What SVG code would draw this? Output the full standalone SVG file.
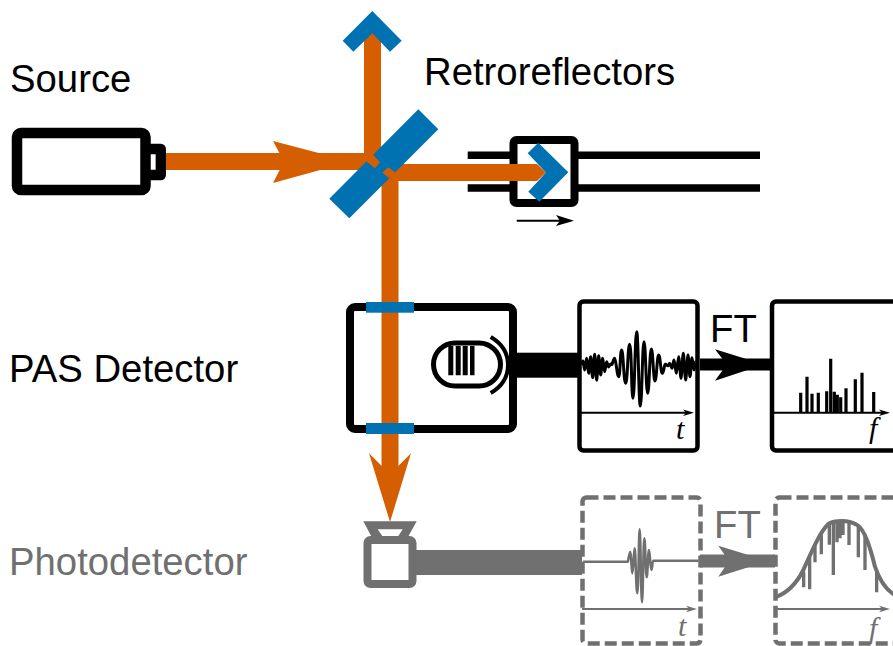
<svg xmlns="http://www.w3.org/2000/svg" width="893" height="646" viewBox="0 0 893 646">
<style>
.lbl{font-family:"Liberation Sans",Arial,sans-serif;font-size:38.300px}
.var{font-family:"Liberation Serif","Times New Roman",serif;font-style:italic;font-size:30px}
.k{fill:none;stroke:#000;stroke-linejoin:round}
.g{fill:none;stroke:#707070;stroke-linejoin:round}
.blue{fill:#0072b2}
.or{fill:#d55e00}
.or-l{stroke:#d55e00;fill:none;stroke-width:17}
</style>
<rect width="893" height="646" fill="#fff"/>
<g id="retroreflector-carriage">
<path d="M467.700 155.300H513M575 155.300H760M467.700 188H513M575 188H760" fill="none" stroke="#000" stroke-width="7.500"/>
<rect class="k" x="513.500" y="140" width="61" height="63" rx="3" stroke-width="8"/>
</g>
<g id="connectors">
<path class="or-l" d="M166 161.500H372.500V33"/>
<polygon class="or" points="273,141 351,161.500 273,183 284,161.500"/>
<path class="or-l" d="M390 172.500V470"/>
<polygon class="or" points="385,164 537,164 546,172.500 537,181 385,181"/>
<polygon class="or" points="369,453.300 381.700,466 398.300,466 411,453.300 390,522"/>
<path d="M516.700 220.700H560" stroke="#000" stroke-width="2" fill="none"/>
<polygon points="556,215 574,220.700 556,226 560,220.700"/>
<rect x="509" y="352.700" width="71" height="25"/>
<path d="M700 364.500H772" stroke="#000" stroke-width="12" fill="none"/>
<polygon points="715,349.300 764,364.500 715,380.700 726.700,364.500"/>
<rect x="414" y="550" width="168" height="25" fill="#707070"/>
<path d="M700 561H775" stroke="#707070" stroke-width="13" fill="none"/>
<polygon points="718.300,545.700 768,561 718.300,576.700 729,561" fill="#707070"/>
</g>
<g id="source">
<text class="lbl" x="10" y="92">Source</text>
<path class="k" d="M145 149H160.800V175H145" stroke-width="10.300"/>
<rect class="k" x="17" y="133" width="128.500" height="57" rx="4" stroke-width="10.500"/>
</g>
<g id="beamsplitter">
<polygon class="blue" points="418.300,109.300 438.300,129.300 349.300,218.300 329.300,198.700"/>
<polygon class="or" points="366,161 372.700,154.300 380,162.300 375,168.300"/>
<polygon class="or" points="382.300,172.700 388.300,167.300 395.700,172.700 389.300,178.300"/>
</g>
<g id="mirror-top">
<polygon class="blue" points="372.300,11 401.700,40.700 390,51.700 372.300,33.300 353.300,51.700 342.700,40.700"/>
</g>
<g id="retroreflector">
<text class="lbl" x="424" y="85">Retroreflectors</text>
<polygon class="blue" points="538.300,142.700 568.300,172.300 539.300,201.700 528.300,191.700 546,172.500 527.700,153.300"/>
</g>
<g id="pas-detector">
<text class="lbl" x="9" y="382">PAS Detector</text>
<rect class="k" x="350" y="307" width="163" height="122" rx="5" stroke-width="8"/>
<rect class="blue" x="366" y="302" width="48" height="10.700"/>
<rect class="blue" x="366" y="423" width="48" height="11"/>
<rect class="k" x="433.500" y="343" width="67" height="43" rx="21.500" stroke-width="5"/>
<path d="M448.300 346h5v29.300h-5zM455.700 346h5v29.300h-5zM462.700 346h5v29.300h-5zM470 346h4.500v29.300H470z"/>
<path d="M490.700 337Q508 347 508 365T490.700 393" fill="none" stroke="#000" stroke-width="4"/>
</g>
<g id="signal-time">
<rect class="k" x="579.500" y="301.500" width="118" height="149" rx="4" stroke-width="4.500"/>
<path d="M580 412.700H688" stroke="#000" stroke-width="2" fill="none"/>
<polygon points="683,409.500 694,412.700 683,416 686,412.700"/>
<path transform="translate(578 325) scale(.3333)" fill="none" stroke="#000" stroke-width="9" stroke-linejoin="round" d="M10 120S13 108 15 108S18 135 20 135S24 100 26 100S30 145 32 145S36 95 38 95S42 158 44 158S48 88 50 88S54 166 56 166S60 92 62 92S66 150 68 150S72 100 74 100S78 140 80 140S84 110 86 110S90 126 92 126S97 113 100 118S106 100 110 100S117 155 122 155S126 75 131 75S137 175 143 175S149 58 155 58S160 220 165 220S171 20 176 20S182 243 187 243S193 50 198 50S204 205 209 205S215 72 220 72S226 168 231 168S237 90 242 90S248 145 253 145S258 118 262 118S267 124 270 122S273 115 275 115S280 130 282 130S286 105 288 105S293 145 295 145S300 95 302 95S307 160 309 160S314 85 316 85S321 165 323 165S328 90 330 90S334 155 336 155S340 98 342 98S346 135 348 135S351 110 353 110"/>
<text class="var" x="676" y="439">t</text>
</g>
<g id="ft-label">
<text class="lbl" x="710" y="342">FT</text>
</g>
<g id="spectrum-freq">
<rect class="k" x="772" y="301.500" width="140" height="149" rx="4" stroke-width="4.500"/>
<path d="M772 412.700H884" stroke="#000" stroke-width="2" fill="none"/>
<polygon points="879,409.500 890,412.700 879,416 882,412.700"/>
<path fill="none" stroke="#000" stroke-width="3.200" d="M800.700 412.500V392.700M807 412.500V376.700M812 412.500V393.700M818.300 412.500V392.700M826.700 412.500V391.300M830.700 412.500V358.700M834.300 412.500V391.700M837.300 412.500V394.700M840.700 412.500V397.300M846 412.500V388.300M855.300 412.500V379.300M862 412.500V372.700M873.700 412.500V392"/>
<text class="var" x="869" y="438">f</text>
</g>
<g id="photodetector">
<text class="lbl" x="9" y="575" fill="#707070">Photodetector</text>
<polygon fill="#707070" fill-rule="evenodd" points="363.300,521.300 416.700,521.300 408,537 371.700,537 363.300,521.300 377.700,529.300 382.300,536 398.300,536 402.700,529.300 377.700,529.300"/>
<rect class="g" x="367.500" y="540" width="45" height="44" rx="3" stroke-width="8"/>
</g>
<g id="signal-time-ref">
<rect class="g" x="582.500" y="497.500" width="118" height="146" rx="4" stroke-width="4.500" stroke-dasharray="12 5"/>
<path d="M582 609H691" stroke="#707070" stroke-width="2" fill="none"/>
<polygon points="686,605.800 697,609 686,612.300 689,609" fill="#707070"/>
<path transform="translate(578 520) scale(.3333)" fill="none" stroke="#707070" stroke-width="7.500" stroke-linejoin="round" d="M15 125H150S154 95 157 95S160 160 163 160S167 85 170 85S174 220 178 220S182 28 185 28S189 247 192 247S196 55 199 55S203 172 206 172S210 90 213 90S217 150 220 150S223 122 226 122H362"/>
<text class="var" x="678" y="636" fill="#707070">t</text>
</g>
<g id="ft-label-ref">
<text class="lbl" x="714" y="538" fill="#707070">FT</text>
</g>
<g id="spectrum-freq-ref">
<rect class="g" x="775.500" y="497.500" width="140" height="146" rx="4" stroke-width="4.500" stroke-dasharray="12 5"/>
<path d="M775 609H884" stroke="#707070" stroke-width="2" fill="none"/>
<polygon points="879,605.800 890,609 879,612.300 882,609" fill="#707070"/>
<g transform="translate(770 510) scale(.3333)" fill="none" stroke="#707070">
<path stroke-width="12" d="M15 262C50 250 80 220 100 180C125 125 150 65 175 42C195 30 235 30 260 44C285 60 300 110 315 170C330 215 350 240 372 254"/>
<path stroke-width="10" d="M101 232V185M119 238V140M135 157V105M154 133V75M178 104V45M190 195V38M201 97V35M210 85V33M219 75V33M237 105V35M265 142V50M285 180V75M320 247V185"/>
</g>
<text class="var" x="869" y="638" fill="#707070">f</text>
</g>
</svg>
